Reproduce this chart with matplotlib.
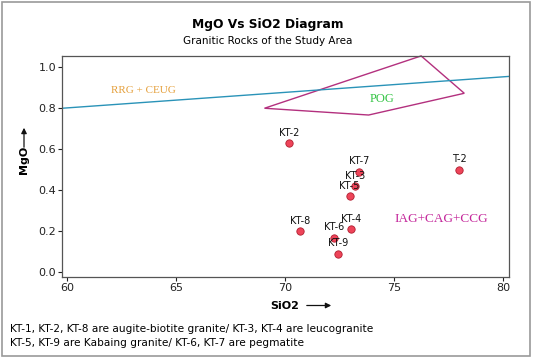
import matplotlib
matplotlib.use('Agg')
from matplotlib import pyplot as plt
from matplotlib.patches import Polygon, Rectangle, FancyArrowPatch

# sample points (SiO2, MgO)
labels = ['KT-2', 'KT-7', 'KT-3', 'KT-5', 'T-2', 'KT-8', 'KT-4', 'KT-6', 'KT-9']
sio2 = [70.17, 73.41, 73.22, 72.96, 78.0, 70.70, 73.04, 72.23, 72.43]
mgo = [0.63, 0.49, 0.42, 0.37, 0.50, 0.20, 0.21, 0.17, 0.09]

# field boundaries
line_x = [59.77, 80.25]
line_y = [0.80, 0.955]
pog_x = [69.05, 73.83, 78.22, 76.24]
pog_y = [0.80, 0.767, 0.873, 1.055]

xticks = [60, 65, 70, 75, 80]
yticks = [0.0, 0.2, 0.4, 0.6, 0.8, 1.0]

fig = plt.figure(figsize=(5.36, 3.57), dpi=100)
fig.patches.append(Rectangle((0.004, 0.004), 0.985, 0.99, transform=fig.transFigure,
                             fill=False, edgecolor='#9a9a9a', lw=1.2))
ax = fig.add_axes([0.1162, 0.2249, 0.8325, 0.6196])

ax.plot(line_x, line_y, color='#2a93b8', lw=1.0)
ax.add_patch(Polygon(list(zip(pog_x, pog_y)), closed=True, fill=False,
                     edgecolor='#b3307e', lw=1.0, clip_on=False))

ax.scatter(sio2, mgo, s=28, color='#ee4459', edgecolor='#b01e30', linewidth=0.6, zorder=3)
for lab, x, y in zip(labels, sio2, mgo):
    ax.annotate(lab, (x, y), xytext=(0, 4), textcoords='offset points',
                ha='center', va='bottom', fontsize=7, color='#111111')

ax.text(63.5, 0.886, 'RRG + CEUG', color='#e5a03c', fontsize=8, family='Liberation Serif',
        ha='center', va='center')
ax.text(74.44, 0.844, 'POG', color='#33c444', fontsize=9, family='Liberation Serif',
        ha='center', va='center')
ax.text(77.15, 0.258, 'IAG+CAG+CCG', color='#c4279b', fontsize=9.5, family='Liberation Serif',
        ha='center', va='center')

ax.set_xlim(59.77, 80.25)
ax.set_ylim(-0.021, 1.057)
ax.set_xticks(xticks)
ax.set_yticks(yticks)
ax.set_yticklabels(['%.1f' % v for v in yticks])
ax.tick_params(axis='both', direction='out', length=3, width=0.8, labelsize=8,
               colors='#222222', pad=1.5)
for sp in ax.spines.values():
    sp.set_color('#555555')
    sp.set_linewidth(0.9)

# titles
fig.text(0.5, 1 - 24.6 / 357, 'MgO Vs SiO2 Diagram', ha='center', va='center',
         fontsize=8.8, fontweight='bold')
fig.text(0.5, 1 - 41 / 357, 'Granitic Rocks of the Study Area', ha='center', va='center',
         fontsize=7.5)

# axis labels with arrows
fig.text(285 / 536, 1 - 306 / 357, 'SiO2', ha='center', va='center', fontsize=8, fontweight='bold')
fig.add_artist(FancyArrowPatch(
    (304 / 536, 1 - 305.5 / 357), (334 / 536, 1 - 305.5 / 357), transform=fig.transFigure,
    arrowstyle='-|>', mutation_scale=8, color='#111111', lw=0.9))
fig.text(24 / 536, 1 - 160 / 357, 'MgO', ha='center', va='center', fontsize=8,
         fontweight='bold', rotation=90)
fig.add_artist(FancyArrowPatch(
    (24 / 536, 1 - 150 / 357), (24 / 536, 1 - 125 / 357), transform=fig.transFigure,
    arrowstyle='-|>', mutation_scale=8, color='#111111', lw=0.9))

# footnote
fig.text(10 / 536, 1 - 328.5 / 357,
         'KT-1, KT-2, KT-8 are augite-biotite granite/ KT-3, KT-4 are leucogranite',
         ha='left', va='center', fontsize=7.6)
fig.text(10 / 536, 1 - 343 / 357,
         'KT-5, KT-9 are Kabaing granite/ KT-6, KT-7 are pegmatite',
         ha='left', va='center', fontsize=7.6)

plt.savefig('out.png', dpi=100)
